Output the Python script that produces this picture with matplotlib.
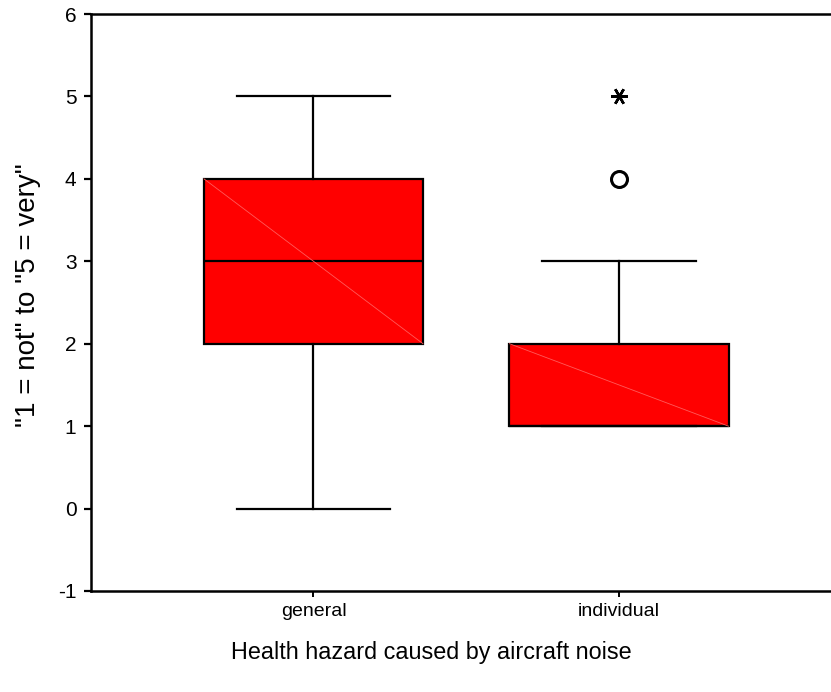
import matplotlib
matplotlib.use("Agg")
import matplotlib.pyplot as plt

plt.rcParams['font.family'] = ['Liberation Sans', 'DejaVu Sans']

# Group labels and five-number summaries (1 = not ... 5 = very)
categories = ["general", "individual"]
whisker_low = [0, 1]
q1 = [2, 1]
median = [3, 1]
q3 = [4, 2]
whisker_high = [5, 3]
outliers = [[], [4]]      # drawn as open circles
extremes = [[], [5]]      # drawn as asterisks

y_ticks = [-1, 0, 1, 2, 3, 4, 5, 6]
x_label = "Health hazard caused by aircraft noise"
y_label = '"1 = not" to "5 = very"'

W, H = 831, 692
fig = plt.figure(figsize=(W / 100, H / 100), dpi=100)
ax = fig.add_axes([91 / W, 101 / H, 740 / W, 577 / H])

positions = [1, 2]
stats = []
for i, name in enumerate(categories):
    stats.append(dict(label=name, whislo=whisker_low[i], q1=q1[i], med=median[i],
                      q3=q3[i], whishi=whisker_high[i], fliers=[]))

box_w = 0.717
bp = ax.bxp(stats, positions=positions, widths=box_w, patch_artist=True,
            showfliers=False, capwidths=0.504,
            boxprops=dict(facecolor="#ff0000", edgecolor="black", linewidth=1.6),
            medianprops=dict(color="black", linewidth=1.6),
            whiskerprops=dict(color="black", linewidth=1.6),
            capprops=dict(color="black", linewidth=1.6))

# faint diagonal across each box
for i, p in enumerate(positions):
    ax.plot([p - box_w / 2, p + box_w / 2], [q3[i], q1[i]], color="#ff5a5a",
            linewidth=0.6, zorder=2.5)

for i, p in enumerate(positions):
    if outliers[i]:
        ax.plot([p] * len(outliers[i]), outliers[i], linestyle="none", marker="o",
                markersize=11.5, markerfacecolor="none", markeredgecolor="black",
                markeredgewidth=2.2)
    if extremes[i]:
        ax.plot([p] * len(extremes[i]), extremes[i], linestyle="none",
                marker=(6, 2, 90), markersize=12, color="black", markeredgewidth=1.8)

ax.set_xlim(0.2717, 2.694)
ax.set_ylim(-1, 6)
ax.set_yticks(y_ticks)
ax.set_yticklabels([str(t) for t in y_ticks])
ax.set_xticks(positions)
ax.set_xticklabels(categories)

for side in ("left", "top", "bottom"):
    ax.spines[side].set_linewidth(1.8)
    ax.spines[side].set_color("black")
ax.spines["right"].set_visible(False)

ax.tick_params(axis="y", direction="out", length=5, width=1.6, labelsize=15, pad=5.5)
ax.tick_params(axis="x", direction="out", length=4, width=1.4, labelsize=14, pad=5)

fig.text(431 / W, 1 - 653 / H, x_label, ha="center", va="center", fontsize=16.8)
fig.text(28 / W, 1 - 295 / H, y_label, ha="center", va="center", rotation=90,
         fontsize=20)

fig.savefig("out.png", dpi=100)
